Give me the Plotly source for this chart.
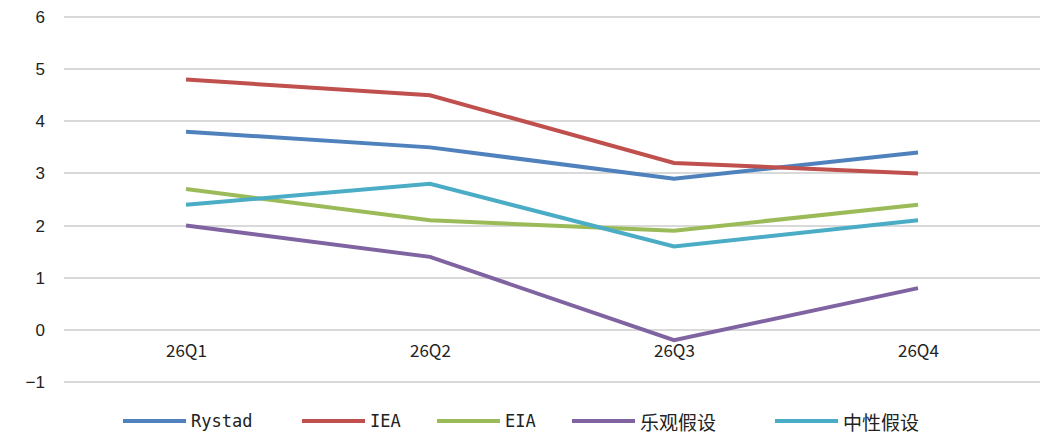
import plotly.graph_objects as go

categories = ["26Q1", "26Q2", "26Q3", "26Q4"]
rystad = [3.8, 3.5, 2.9, 3.4]
iea = [4.8, 4.5, 3.2, 3.0]
eia = [2.7, 2.1, 1.9, 2.4]
optimistic = [2.0, 1.4, -0.2, 0.8]
neutral = [2.4, 2.8, 1.6, 2.1]

series_names = ["Rystad", "IEA", "EIA", "乐观假设", "中性假设"]
series_values = [rystad, iea, eia, optimistic, neutral]
series_colors = ["#4F81BD", "#C0504D", "#9BBB59", "#8064A2", "#4BACC6"]

# legend layout (pixel positions of each sample line start)
legend_px = [123, 302, 437, 572, 775]

W, H = 1043, 434
ML, MR, MT, MB = 64, 3, 16, 51
PW, PH = W - ML - MR, H - MT - MB

fig = go.Figure()
for name, vals, color in zip(series_names, series_values, series_colors):
    fig.add_trace(go.Scatter(x=categories, y=vals, mode="lines", name=name,
                             line=dict(color=color, width=4), showlegend=False))

for c in categories:
    fig.add_annotation(x=c, y=0, text=c, showarrow=False, yanchor="top", yshift=-5,
                       font=dict(family="Liberation Sans Narrow, Noto Sans CJK SC", size=17, color="#222"))

# custom legend below plot
ly = (H - MB - 421) / PH
for name, color, px in zip(series_names, series_colors, legend_px):
    x0 = (px - ML) / PW
    x1 = (px + 63 - ML) / PW
    fig.add_shape(type="line", xref="paper", yref="paper", x0=x0, x1=x1, y0=ly, y1=ly,
                  line=dict(color=color, width=4))
    cjk = any(ord(ch) > 127 for ch in name)
    fig.add_annotation(xref="paper", yref="paper", x=(px + 66 - ML) / PW, y=ly,
                       text=name, showarrow=False, xanchor="left", yanchor="middle",
                       font=dict(family="Noto Sans CJK SC" if cjk else "DejaVu Sans Mono",
                                 size=19 if cjk else 17, color="#222"))

fig.update_layout(
    width=W, height=H,
    margin=dict(l=ML, r=MR, t=MT, b=MB),
    plot_bgcolor="white", paper_bgcolor="white",
    showlegend=False,
    xaxis=dict(type="category", showgrid=False, showticklabels=False, zeroline=False,
               range=[-0.5, 3.5], showline=False),
    yaxis=dict(range=[-1.02, 6.02], dtick=1, tick0=0, showgrid=True, gridcolor="#D9D9D9",
               gridwidth=1.5, zeroline=False, showline=False,
               tickfont=dict(family="Liberation Sans", size=17, color="#222"),
               ticklabelstandoff=18),
)

fig.write_html("out.html")
